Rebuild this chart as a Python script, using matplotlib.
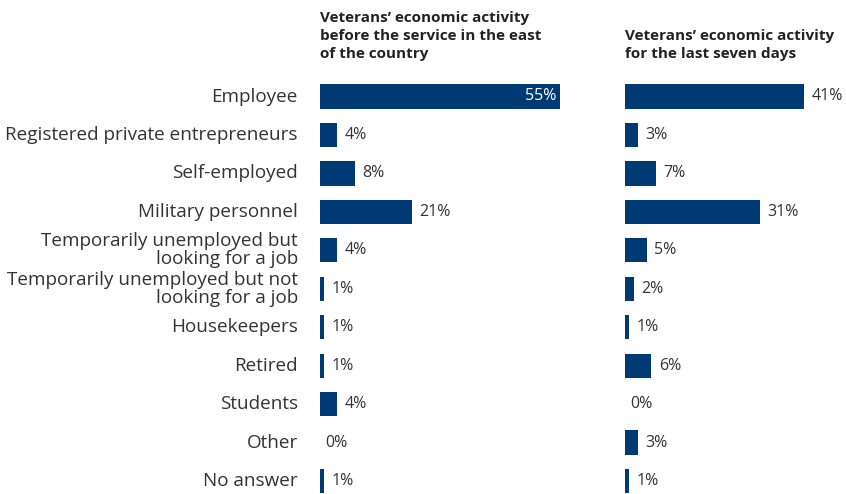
import matplotlib
matplotlib.use("Agg")
import matplotlib.pyplot as plt

categories = [
    "Employee",
    "Registered private entrepreneurs",
    "Self-employed",
    "Military personnel",
    "Temporarily unemployed but\nlooking for a job",
    "Temporarily unemployed but not\nlooking for a job",
    "Housekeepers",
    "Retired",
    "Students",
    "Other",
    "No answer",
]
before_service = [55, 4, 8, 21, 4, 1, 1, 1, 4, 0, 1]
last_seven_days = [41, 3, 7, 31, 5, 2, 1, 6, 0, 3, 1]

title_before = "Veterans’ economic activity\nbefore the service in the east\nof the country"
title_last = "Veterans’ economic activity\nfor the last seven days"

BAR_COLOR = "#003a75"
TEXT_COLOR = "#333333"
FONT = "Open Sans"

W, H = 846, 494
fig = plt.figure(figsize=(W / 100, H / 100), dpi=100)

px_per_unit = 4.36
xmax = 60
row0_px = 96.5
row_step = 38.45
top_px = row0_px - 0.5 * row_step
ybottom = (H - row0_px) / row_step


def make_axes(left_px):
    ax = fig.add_axes([left_px / W, 0, xmax * px_per_unit / W, (H - top_px) / H])
    ax.set_xlim(0, xmax)
    ax.set_ylim(ybottom, -0.5)
    ax.axis("off")
    return ax


def draw_panel(ax, values, inside_threshold=50):
    ys = range(len(values))
    ax.barh(list(ys), values, height=0.63, color=BAR_COLOR, edgecolor="none")
    for y, v in zip(ys, values):
        label = f"{v}%"
        if v >= inside_threshold:
            ax.annotate(label, (v, y), xytext=(-2.5, 0), textcoords="offset points",
                        ha="right", va="center", color="white", fontsize=11.5,
                        family=FONT)
        else:
            ax.annotate(label, (v, y), xytext=(5.5 if v > 0 else 4, 0),
                        textcoords="offset points", ha="left", va="center",
                        color=TEXT_COLOR, fontsize=11.5, family=FONT)


ax1 = make_axes(320)
draw_panel(ax1, before_service)
for y, cat in enumerate(categories):
    ax1.annotate(cat, (0, y), xytext=(-16, 0), textcoords="offset points",
                 ha="right", va="center", color=TEXT_COLOR, fontsize=13.6,
                 family=FONT, linespacing=0.98, annotation_clip=False)

ax2 = make_axes(625)
draw_panel(ax2, last_seven_days)

title_y = 1 - 61 / H
fig.text(320 / W, title_y, title_before, ha="left", va="bottom", fontsize=11,
         fontweight="bold", family=FONT, color="#222222", linespacing=1.35)
fig.text(625 / W, title_y, title_last, ha="left", va="bottom", fontsize=11,
         fontweight="bold", family=FONT, color="#222222", linespacing=1.35)

fig.savefig("out.png", dpi=100, facecolor="white")
